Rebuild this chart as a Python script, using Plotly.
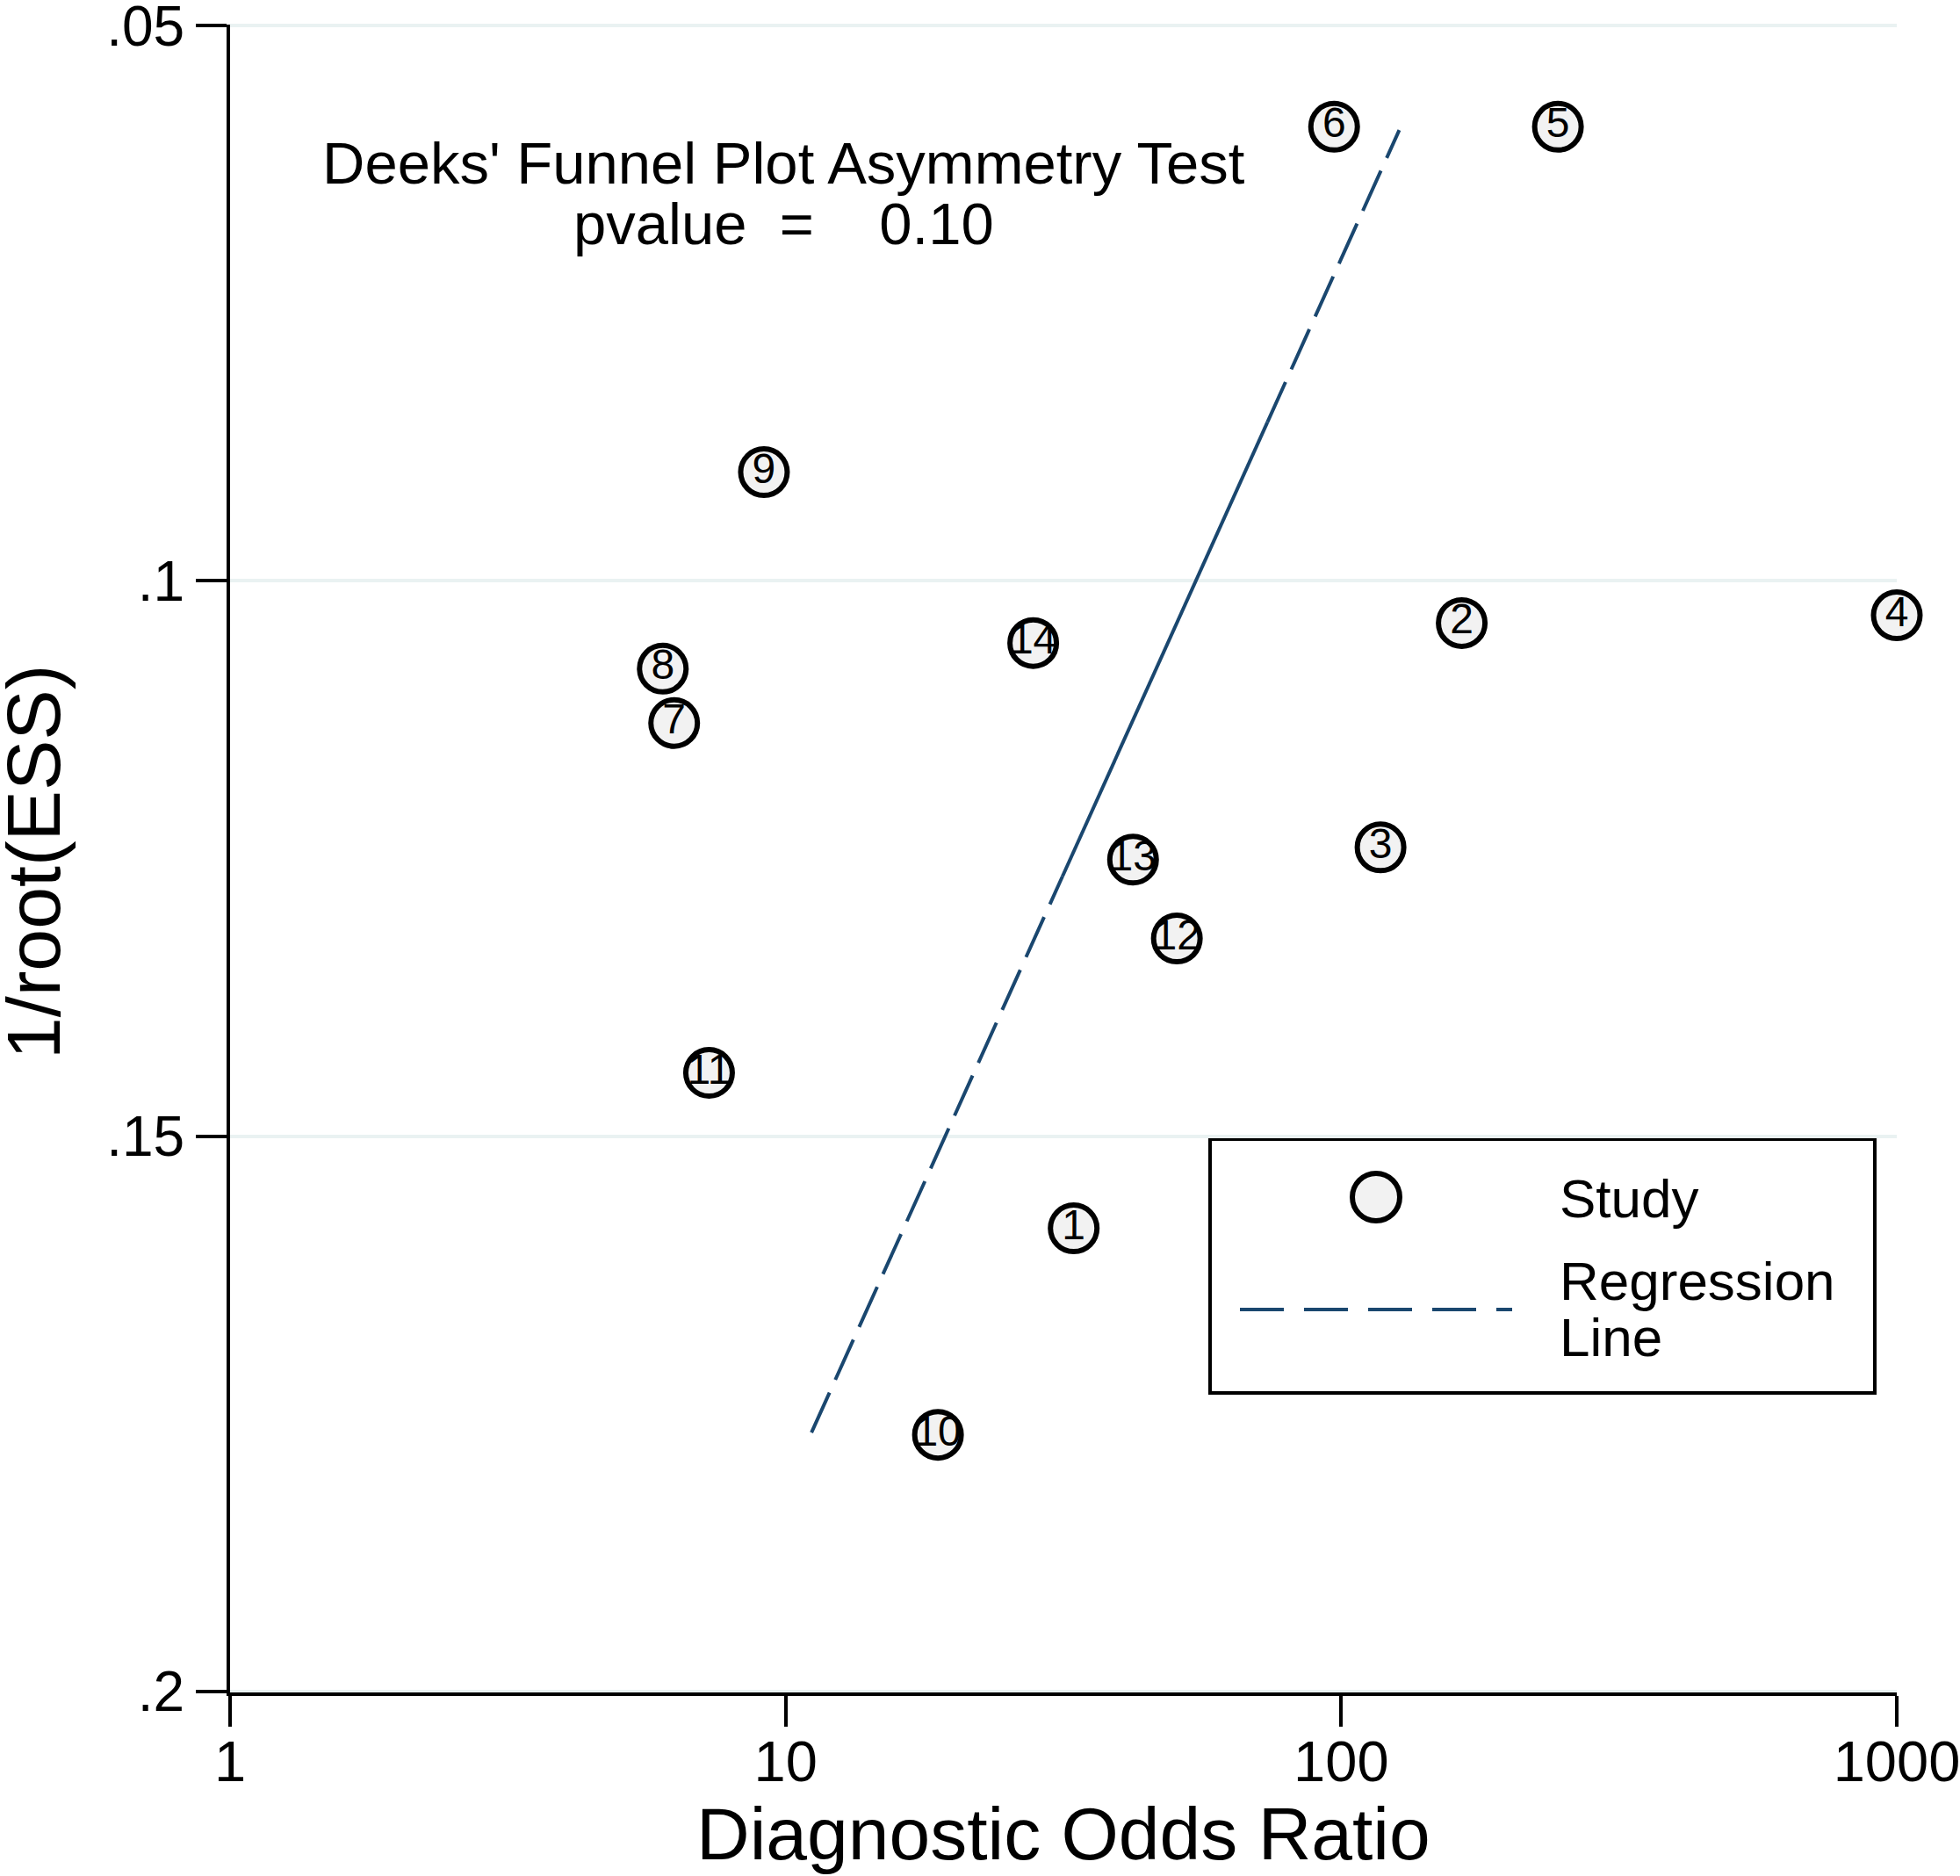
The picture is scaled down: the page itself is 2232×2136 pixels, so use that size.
import numpy as np
import plotly.graph_objects as go

# study points
study_id = ["1", "2", "3", "4", "5", "6", "7", "8", "9", "10", "11", "12", "13", "14"]
dor = [33.0, 164.8, 117.7, 1000.0, 245.5, 97.1, 6.30, 6.01, 9.14, 18.8, 7.28, 50.6, 42.2, 27.9]
inv_root_ess = [0.1583, 0.1038, 0.1240, 0.1031, 0.0591, 0.0591, 0.1128, 0.1079,
                0.0902, 0.1769, 0.1443, 0.1322, 0.1251, 0.1056]

# regression line ends (x on log scale) and where it is drawn solid
reg_x = [11.13, 127.2]
reg_y = [0.1767, 0.0594]
solid_y = [0.1266, 0.0857]

x_ticks = [1, 10, 100, 1000]
x_ticktext = ["1", "10", "100", "1000"]
y_ticks = [0.05, 0.1, 0.15, 0.2]
y_ticktext = [".05", ".1", ".15", ".2"]

FONT = "Liberation Sans, Arial, Helvetica, sans-serif"
NAVY = "#1a476f"
W, H = 2232, 2136
L, R, T, B = 262, 72, 28, 209


def x_on_line(y):
    t = (y - reg_y[0]) / (reg_y[1] - reg_y[0])
    lx = np.log10(reg_x[0]) + t * (np.log10(reg_x[1]) - np.log10(reg_x[0]))
    return 10 ** lx


def px(x):
    return (x - L) / (W - L - R)


def py(y):
    return (H - B - y) / (H - T - B)


fig = go.Figure()

segs = [(reg_y[0], solid_y[0], "50px,16px"),
        (solid_y[0], solid_y[1], "solid"),
        (solid_y[1], reg_y[1], "50px,16px")]
for y0, y1, dash in segs:
    fig.add_trace(go.Scatter(
        x=[x_on_line(y0), x_on_line(y1)], y=[y0, y1], mode="lines",
        line=dict(color=NAVY, width=4, dash=dash),
        showlegend=False, hoverinfo="skip"))

fig.add_trace(go.Scatter(
    x=dor, y=inv_root_ess, mode="markers+text",
    text=study_id, textposition="middle center",
    textfont=dict(family=FONT, size=48, color="black"),
    marker=dict(size=53, color="#f2f2f2", line=dict(color="black", width=6)),
    cliponaxis=False, showlegend=False))

# hand-made legend box like the Stata one
shapes = [
    dict(type="rect", xref="paper", yref="paper",
         x0=px(1378), x1=px(2135), y0=py(1586), y1=py(1297),
         line=dict(color="black", width=4), fillcolor="white", layer="below"),
    dict(type="circle", xref="paper", yref="paper",
         x0=px(1567 - 27), x1=px(1567 + 27), y0=py(1363 + 27), y1=py(1363 - 27),
         line=dict(color="black", width=6), fillcolor="#f2f2f2"),
    dict(type="line", xref="paper", yref="paper",
         x0=px(1412), x1=px(1722), y0=py(1491), y1=py(1491),
         line=dict(color=NAVY, width=4, dash="50px,23px")),
]

ann = [
    dict(text="Deeks' Funnel Plot Asymmetry Test", x=px(892), y=py(186)),
    dict(text="pvalue\u00a0\u00a0=\u00a0\u00a0\u00a0 0.10", x=px(892), y=py(255)),
]
annotations = [dict(a, xref="paper", yref="paper", showarrow=False,
                    xanchor="center", yanchor="middle",
                    font=dict(family=FONT, size=67, color="black")) for a in ann]
for txt, yy in [("Study", 1364), ("Regression", 1458), ("Line", 1522)]:
    annotations.append(dict(text=txt, x=px(1774), y=py(yy), xref="paper", yref="paper",
                            showarrow=False, xanchor="left", yanchor="middle",
                            font=dict(family=FONT, size=62, color="black")))

# axis titles placed by hand
annotations.append(dict(text="Diagnostic Odds Ratio", x=px(1211), y=py(2088),
                        xref="paper", yref="paper", showarrow=False,
                        xanchor="center", yanchor="middle",
                        font=dict(family=FONT, size=84, color="black")))
annotations.append(dict(text="1/root(ESS)", x=px(38), y=py(982), textangle=-90,
                        xref="paper", yref="paper", showarrow=False,
                        xanchor="center", yanchor="middle",
                        font=dict(family=FONT, size=86, color="black")))

fig.update_layout(
    width=W, height=H,
    margin=dict(l=L, r=R, t=T, b=B),
    paper_bgcolor="white", plot_bgcolor="white",
    font=dict(family=FONT, color="black"),
    shapes=shapes, annotations=annotations,
    xaxis=dict(type="log", range=[0, 3], tickvals=x_ticks, ticktext=x_ticktext,
               automargin=False, ticklabeloverflow="allow",
               showgrid=False, zeroline=False, showline=True, linecolor="black", linewidth=4,
               ticks="outside", ticklen=35, tickwidth=4, tickcolor="black",
               tickfont=dict(size=65), ticklabelstandoff=-16),
    yaxis=dict(range=[0.2001, 0.0499], tickvals=y_ticks, ticktext=y_ticktext,
               automargin=False, ticklabeloverflow="allow",
               showgrid=True, gridcolor="#eaf2f2", gridwidth=4, zeroline=False,
               showline=True, linecolor="black", linewidth=4,
               ticks="outside", ticklen=35, tickwidth=4, tickcolor="black",
               tickfont=dict(size=64), ticklabelstandoff=0),
)

# page body margin would push the fixed-size figure out of the window
fig.write_html("out.html", config={"displayModeBar": False},
               post_script="document.body.style.margin='0';document.body.style.overflow='hidden';")
